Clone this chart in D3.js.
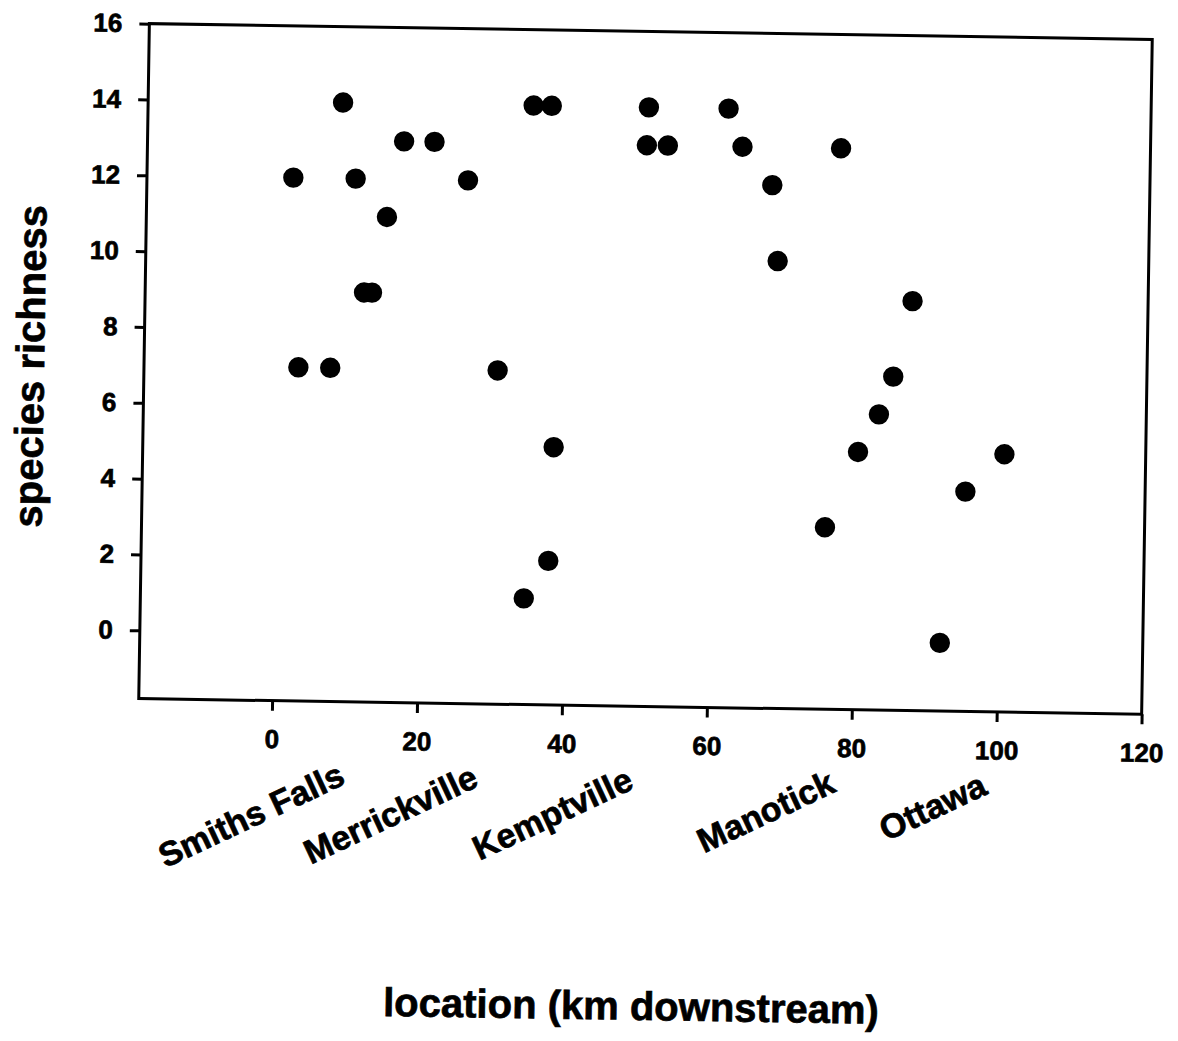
<!DOCTYPE html>
<html>
<head>
<meta charset="utf-8">
<script src="https://cdn.jsdelivr.net/npm/d3@7"></script>
<style>
  body { margin: 0; background: #fff; }
  text { font-family: "Liberation Sans", Arial, sans-serif; font-weight: bold; fill: #000; stroke: #000; stroke-width: 0.7px; }
</style>
</head>
<body>
<svg id="chart"></svg>
<script>
// data
const km = [1.8, 2.9, 7.3, 8.5, 10.4, 11.8, 12.9, 14.8, 17.0, 21.2, 25.9,
  30.4, 34.5, 34.8, 37.3, 37.8, 38.3, 50.7, 50.5, 53.4, 61.7, 63.7, 67.9,
  68.8, 75.9, 77.3, 80.3, 83.1, 85.0, 87.5, 92.0, 95.2, 100.5];
const richness = [12, 7, 7, 14, 12, 9, 9, 11, 13, 13, 12,
  7, 1, 14, 14, 2, 5, 14, 13, 13, 14, 13, 12,
  10, 3, 13, 5, 6, 7, 9, 0, 4, 5];

const xTicks = [0, 20, 40, 60, 80, 100, 120];
const yTicks = [0, 2, 4, 6, 8, 10, 12, 14, 16];

const towns = ["Smiths Falls", "Merrickville", "Kemptville", "Manotick", "Ottawa"];
const townKm = [10.5, 28.9, 50.3, 78.2, 99.1];

const width = 1178;
const height = 1041;
const plot = { left: 144, right: 1147, top: 31.5, bottom: 706.5 };

const svg = d3.select("#chart").attr("width", width).attr("height", height);

// the scan is tilted a little clockwise
const g = svg.append("g").attr("transform", "rotate(0.9, 646.75, 369.25)");

const x = d3.scaleLinear().domain([-18.4, 120]).range([plot.left, plot.right]);
const y = d3.scaleLinear().domain([-1.8, 16]).range([plot.bottom, plot.top]);

// x axis
const xAxis = g.append("g")
  .attr("transform", `translate(0,${plot.bottom})`)
  .call(d3.axisBottom(x).tickValues(xTicks).tickSize(10).tickPadding(19).tickFormat(d3.format("d")));
xAxis.select(".domain").remove();
xAxis.selectAll("line").attr("stroke", "#000").attr("stroke-width", 3);
xAxis.selectAll("text").attr("font-size", 26).style("font-family", null);

// y axis
const yAxis = g.append("g")
  .attr("transform", `translate(${plot.left},0)`)
  .call(d3.axisLeft(y).tickValues(yTicks).tickSize(10).tickPadding(17).tickFormat(d3.format("d")));
yAxis.select(".domain").remove();
yAxis.selectAll("line").attr("stroke", "#000").attr("stroke-width", 3);
yAxis.selectAll("text").attr("font-size", 26).style("font-family", null);

// frame
g.append("rect")
  .attr("x", plot.left)
  .attr("y", plot.top)
  .attr("width", plot.right - plot.left)
  .attr("height", plot.bottom - plot.top)
  .attr("fill", "none")
  .attr("stroke", "#000")
  .attr("stroke-width", 3);

// points
g.append("g")
  .selectAll("circle")
  .data(km.map((d, i) => ({ km: d, n: richness[i] })))
  .enter()
  .append("circle")
  .attr("cx", d => x(d.km))
  .attr("cy", d => y(d.n))
  .attr("r", 10.2)
  .attr("fill", "#000");

// town names under the axis
g.append("g")
  .selectAll("text")
  .data(towns)
  .enter()
  .append("text")
  .attr("transform", (d, i) => `translate(${x(townKm[i])},788) rotate(-26)`)
  .attr("text-anchor", "end")
  .attr("font-size", 34)
  .text(d => d);

// axis titles
g.append("text")
  .attr("x", 641)
  .attr("y", 1020)
  .attr("text-anchor", "middle")
  .attr("font-size", 40)
  .text("location (km downstream)");

g.append("text")
  .attr("transform", "translate(44,376) rotate(-90)")
  .attr("text-anchor", "middle")
  .attr("font-size", 40)
  .text("species richness");
</script>
</body>
</html>
